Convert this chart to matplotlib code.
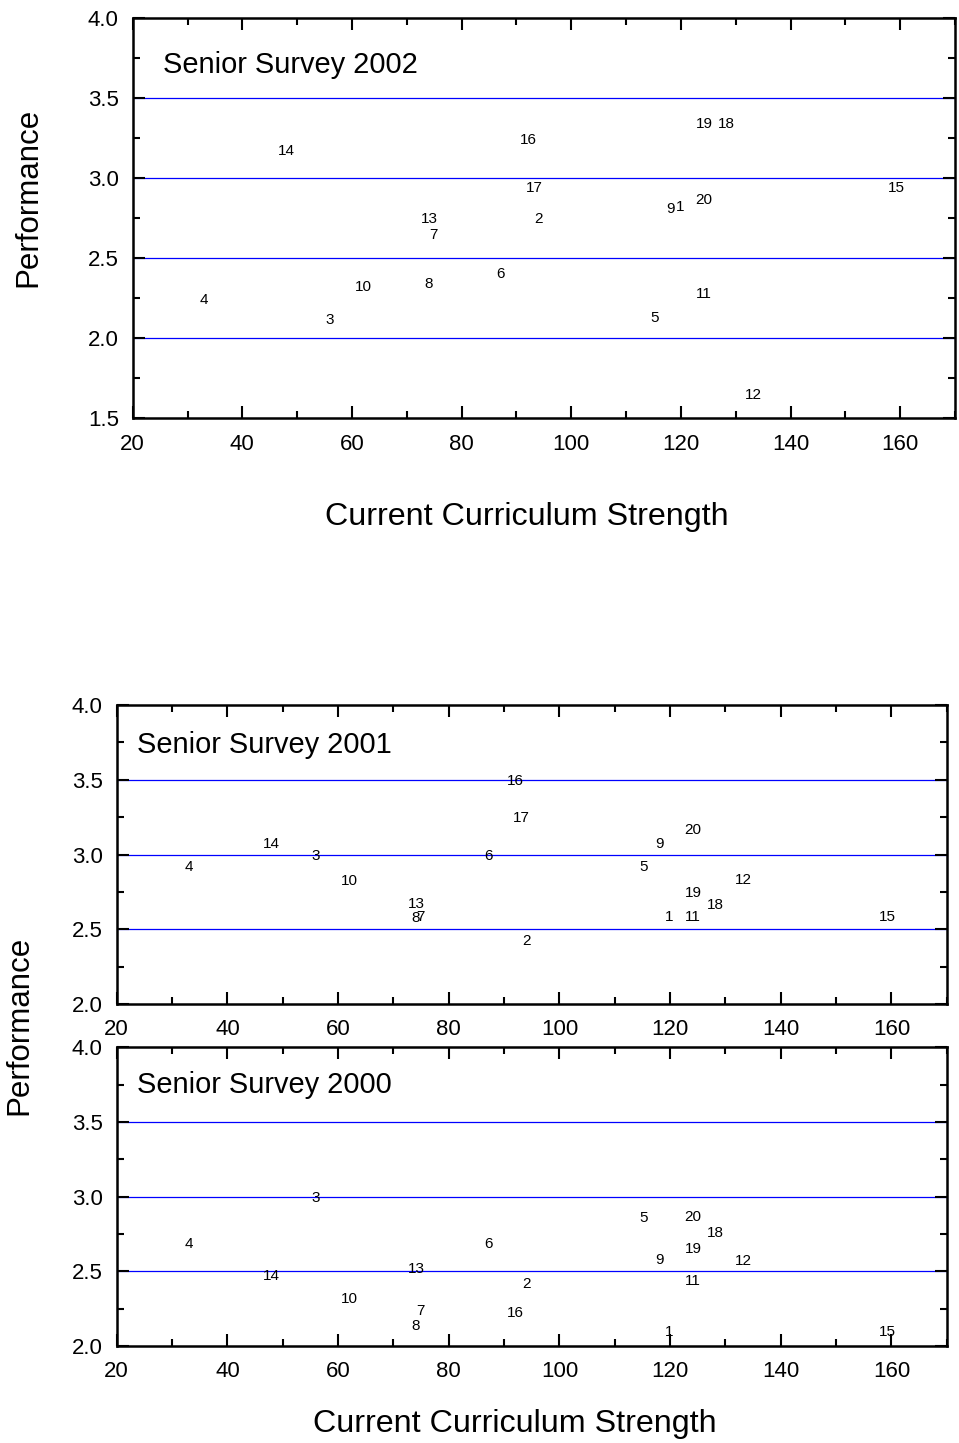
import numpy as np
import matplotlib
matplotlib.use('Agg')
import matplotlib.pyplot as plt
from matplotlib.ticker import MultipleLocator, FormatStrFormatter

plt.rcParams['font.family'] = ['Liberation Sans', 'DejaVu Sans']

# Department numbers and their curriculum strength
departamentos = [str(i) for i in range(1, 21)]
fuerza = [119.8, 94.1, 56.0, 33.0, 115.2, 87.1, 74.9, 74.0, 118.1, 62.1,
          124.1, 133.3, 74.1, 48.0, 159.3, 92.1, 93.2, 128.2, 124.2, 124.1]

# Performance per survey year (nan = not shown)
perf_2002 = [2.833, 2.754, 2.121, 2.246, 2.135, 2.414, 2.654, 2.352, 2.817, 2.333,
             2.285, 1.654, 2.754, 3.183, 2.946, 3.246, 2.946, 3.352, 3.352, 2.873]
perf_2001 = [2.589, 2.429, 3.000, 2.927, 2.927, 3.000, 2.593, 2.585, 3.082, 2.833,
             2.589, 2.838, 2.678, 3.082, 2.589, 3.500, 3.256, 2.673, 2.756, 3.173]
perf_2000 = [2.107, 2.426, 3.000, 2.691, 2.866, 2.691, 2.245, 2.147, 2.589, 2.323,
             2.448, 2.580, 2.524, 2.480, 2.107, 2.234, np.nan, 2.770, 2.658, 2.872]

lineas_2002 = [2.0, 2.5, 3.0, 3.5]
lineas_bajo = [2.5, 3.0, 3.5]

fig = plt.figure(figsize=(9.59, 14.43), dpi=100)


def panel(rect, perf, titulo, ylim, lineas, tx, ty):
    ax = fig.add_axes(rect)
    ax.set_xlim(20, 170)
    ax.set_ylim(*ylim)
    for y in lineas:
        ax.axhline(y, color='#0000ff', lw=0.9, zorder=1)
    for d, x, y in zip(departamentos, fuerza, perf):
        if np.isnan(y):
            continue
        ax.text(x, y, d, ha='center', va='center_baseline', fontsize=11)
    ax.text(tx, ty, titulo, transform=ax.transAxes,
            ha='left', va='center_baseline', fontsize=20.9)
    ax.xaxis.set_major_locator(MultipleLocator(20))
    ax.xaxis.set_minor_locator(MultipleLocator(10))
    ax.yaxis.set_major_locator(MultipleLocator(0.5))
    ax.yaxis.set_minor_locator(MultipleLocator(0.25))
    ax.yaxis.set_major_formatter(FormatStrFormatter('%.1f'))
    ax.tick_params(which='both', direction='in', top=True, right=True, width=1.5)
    ax.tick_params(which='major', length=8.6)
    ax.tick_params(which='minor', length=5)
    ax.tick_params(axis='x', which='major', labelsize=16, pad=11)
    ax.tick_params(axis='y', which='major', labelsize=16, pad=10)
    for s in ax.spines.values():
        s.set_linewidth(1.8)
    return ax


panel([0.1384, 0.7101, 0.8575, 0.2772], perf_2002, 'Senior Survey 2002', (1.5, 4.0), lineas_2002, 0.037, 0.891)
panel([0.1217, 0.3042, 0.8655, 0.2072], perf_2001, 'Senior Survey 2001', (2.0, 4.0), lineas_bajo, 0.025, 0.876)
panel([0.1217, 0.0672, 0.8655, 0.2070], perf_2000, 'Senior Survey 2000', (2.0, 4.0), lineas_bajo, 0.024, 0.885)

# Axis labels
fig.text(527 / 959, 1 - 517 / 1443, 'Current Curriculum Strength', ha='center', va='center', fontsize=23.2)
fig.text(514.5 / 959, 1 - 1424 / 1443, 'Current Curriculum Strength', ha='center', va='center', fontsize=23.2)
fig.text(28 / 959, 1 - 197 / 1443, 'Performance', ha='center', va='center', rotation=90, fontsize=22.5)
fig.text(19 / 959, 1 - 1025 / 1443, 'Performance', ha='center', va='center', rotation=90, fontsize=22.5)

fig.savefig('out.png', dpi=100)
